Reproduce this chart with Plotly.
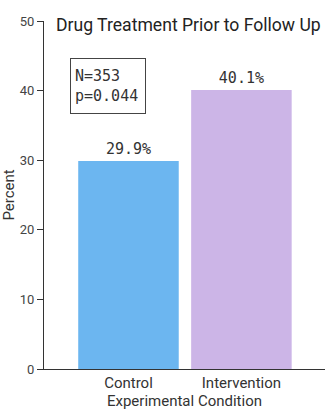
import plotly.graph_objects as go

categories = ["Control", "Intervention"]
percent = [29.9, 40.1]
bar_colors = ["#6cb6f0", "#ccb5e7"]
y_ticks = [0, 10, 20, 30, 40, 50]

SANS = "Roboto, Liberation Sans, sans-serif"
MONO = "DejaVu Sans Mono, monospace"
INK = "#333333"

fig = go.Figure()
fig.add_trace(go.Bar(
    x=[0, 1],
    y=percent,
    marker=dict(color=bar_colors, line=dict(width=0)),
    width=0.89,
    text=[f"{v:.1f}%" for v in percent],
    textposition="outside",
    textfont=dict(family=MONO, size=15, color=INK),
    cliponaxis=False,
    hoverinfo="skip",
))

fig.update_layout(
    width=325, height=412,
    margin=dict(l=44, r=0, t=21, b=43),
    paper_bgcolor="white", plot_bgcolor="white",
    showlegend=False,
    xaxis=dict(
        range=[-0.748, 1.74],
        tickmode="array", tickvals=[0, 1], ticktext=categories,
        ticks="", showgrid=False, zeroline=False,
        showline=True, linecolor=INK, linewidth=1,
        tickfont=dict(family=SANS, size=15, color=INK),
        title=dict(text="Experimental Condition", standoff=0,
                   font=dict(family=SANS, size=15, color=INK)),
    ),
    yaxis=dict(
        range=[0, 50],
        tickmode="array", tickvals=y_ticks,
        ticks="outside", ticklen=6, tickcolor=INK,
        showgrid=False, zeroline=False,
        showline=True, linecolor=INK, linewidth=1,
        tickfont=dict(family=SANS, size=13, color="#444444"),
        title=dict(text="Percent", standoff=2,
                   font=dict(family=SANS, size=15, color=INK)),
    ),
)

fig.add_annotation(
    text="Drug Treatment Prior to Follow Up",
    xref="paper", yref="paper", x=0.035, y=1.0, xanchor="left", yanchor="bottom",
    yshift=-16, showarrow=False,
    font=dict(family=SANS, size=17.6, color="#222222"),
)

fig.add_annotation(
    text="N=353<br>p=0.044",
    xref="x", yref="y", x=-0.52, y=44.7, xanchor="left", yanchor="top",
    align="left", valign="middle", width=66, height=46, showarrow=False,
    bordercolor="#444444", borderwidth=1, borderpad=4,
    font=dict(family=MONO, size=15, color=INK),
)

fig.write_html("out.html")
